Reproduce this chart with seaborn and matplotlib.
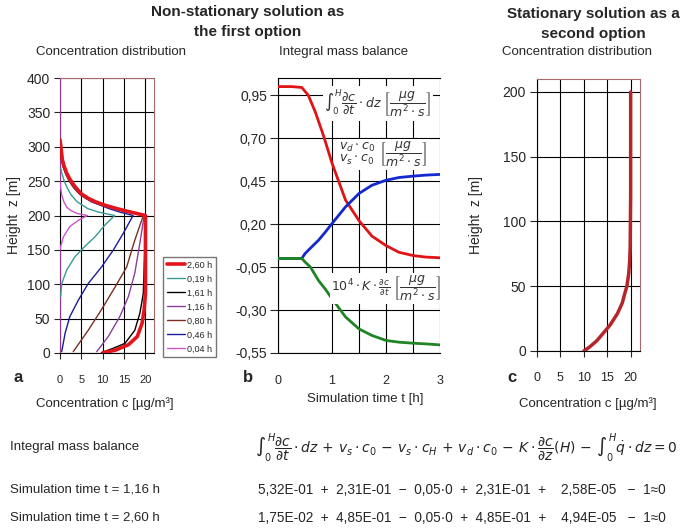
import matplotlib
matplotlib.use("Agg")
import matplotlib.pyplot as plt
import seaborn as sns
import pandas as pd

# ---- panel a: non-stationary concentration profiles (z in m, c in ug/m3) ----
times_a = ["2,60 h", "0,19 h", "1,61 h", "1,16 h", "0,80 h", "0,46 h", "0,04 h"]

z_260 = [0.5, 4, 12, 24, 43, 63, 87, 120, 160, 200, 205, 210, 215, 220, 225, 232, 242, 252, 261, 271, 281, 292, 300, 310]
c_260 = [10.1, 12.9, 16.0, 18.1, 19.2, 19.7, 20.0, 20.0, 20.0, 20.0, 16.5, 13.3, 10.5, 8.3, 6.6, 4.9, 3.5, 2.4, 1.6, 1.0, 0.55, 0.35, 0.2, 0.0]

z_161 = [0.5, 7, 14, 33, 58, 87, 125, 160, 200, 205, 210, 215, 220, 225, 232, 242, 252, 261, 271, 281, 292, 300]
c_161 = [9.7, 12.5, 15.2, 17.5, 18.7, 19.5, 19.7, 19.9, 20.0, 16.3, 13.1, 10.3, 8.1, 6.4, 4.7, 3.3, 2.2, 1.5, 0.9, 0.5, 0.3, 0.1]

z_116 = [2, 24, 53, 82, 116, 160, 200, 205, 210, 215, 220, 225, 232, 242, 252, 261, 271, 281, 292]
c_116 = [8.6, 11.3, 14.0, 16.0, 17.5, 18.7, 19.7, 16.1, 12.9, 10.1, 7.9, 6.2, 4.6, 3.2, 2.1, 1.4, 0.8, 0.45, 0.2]

z_080 = [2, 33, 63, 96, 125, 164, 200, 205, 210, 215, 220, 225, 232, 242, 252, 261, 271, 281, 290]
c_080 = [3.1, 6.6, 9.7, 12.9, 15.6, 17.5, 19.5, 15.8, 12.6, 9.9, 7.7, 6.0, 4.4, 3.0, 2.0, 1.3, 0.7, 0.35, 0.1]

z_046 = [2, 29, 53, 77, 101, 125, 150, 174, 200, 205, 210, 220, 230, 240, 250, 260, 270, 280, 290]
c_046 = [0.4, 1.2, 2.3, 4.3, 6.6, 9.7, 12.5, 14.8, 17.1, 14.0, 11.5, 7.3, 4.8, 3.3, 2.2, 1.4, 0.8, 0.4, 0.15]

z_019 = [82, 101, 121, 140, 155, 169, 186, 200, 205, 210, 220, 230, 240, 250, 260, 268]
c_019 = [0.15, 0.4, 1.6, 3.5, 5.8, 8.2, 10.5, 12.8, 9.0, 6.5, 4.0, 2.6, 1.7, 1.0, 0.5, 0.2]

z_004 = [0, 100, 150, 155, 169, 184, 193, 200, 203, 207, 212, 220, 230, 240, 250, 300, 400]
c_004 = [0.0, 0.0, 0.0, 0.15, 0.8, 2.3, 4.3, 6.4, 4.0, 2.6, 1.6, 0.9, 0.4, 0.15, 0.0, 0.0, 0.0]

# ---- panel b: integral mass balance terms over time ----
t_b = [0, 0.25, 0.44, 0.56, 0.69, 0.84, 1.0, 1.25, 1.5, 1.74, 2.0, 2.24, 2.5, 2.74, 3.0]
storage = [1.0, 1.0, 0.995, 0.95, 0.853, 0.717, 0.555, 0.34, 0.22, 0.13, 0.075, 0.036, 0.017, 0.008, 0.004]
t_bg = [0, 0.25, 0.44, 0.5, 0.6, 0.75, 0.88, 1.0, 1.25, 1.5, 1.74, 2.0, 2.24, 2.5, 2.74, 3.0]
deposition = [0.0, 0.0, 0.0, 0.028, 0.06, 0.106, 0.155, 0.203, 0.30, 0.378, 0.426, 0.455, 0.471, 0.479, 0.485, 0.489]
diffusion = [0.0, 0.0, 0.0, -0.02, -0.05, -0.128, -0.18, -0.234, -0.34, -0.41, -0.448, -0.477, -0.487, -0.493, -0.497, -0.503]

# ---- panel c: stationary profile ----
z_st = [0, 3, 8, 14, 20, 29, 37, 45, 50, 60, 70, 80, 100, 120, 150, 200]
c_st = [10.0, 11.2, 12.8, 14.2, 15.6, 17.2, 18.2, 18.8, 19.2, 19.6, 19.8, 19.9, 19.95, 20.0, 20.0, 20.0]

sns.set_style("white")
plt.rcParams["font.family"] = ["Liberation Sans", "DejaVu Sans"]
plt.rcParams["mathtext.fontset"] = "dejavusans"

W, H = 685, 530
fig = plt.figure(figsize=(W / 100, H / 100), dpi=100)


def box(l, r, t, b):
    return [l / W, 1 - b / H, (r - l) / W, (b - t) / H]


def ftxt(x, y, s, **kw):
    fig.text(x / W, 1 - y / H, s, **kw)


spine_red = "#a86a6a"

# ---------------- panel a ----------------
ax1 = fig.add_axes(box(60, 154, 78, 353))
profiles = [
    (c_260, z_260, "#e3141b", 2.6),
    (c_019, z_019, "#3a9a92", 1.0),
    (c_161, z_161, "black", 1.0),
    (c_116, z_116, "#8b3f9c", 1.0),
    (c_080, z_080, "#7b2f22", 1.0),
    (c_046, z_046, "#1c1c98", 1.0),
    (c_004, z_004, "#cc55cc", 1.0),
]
handles = []
for (cc, zz, col, lw), lab in zip(profiles[::-1], times_a[::-1]):
    sns.lineplot(x=cc, y=zz, sort=False, estimator=None, color=col, linewidth=lw, ax=ax1, zorder=3)
    handles.append((plt.Line2D([], [], color=col, linewidth=lw), lab))
handles = handles[::-1]
ax1.set_xlim(0, 22)
ax1.set_ylim(0, 400)
ax1.set_xticks([0, 5, 10, 15, 20])
ax1.set_yticks(range(0, 401, 50))
ax1.grid(True, color="black", linewidth=0.8)
ax1.set_ylabel("Height  z [m]", fontsize=10, labelpad=4)
ax1.tick_params(axis="y", labelsize=10, length=4, pad=3, left=True)
ax1.tick_params(axis="x", labelsize=8, length=4, pad=12, bottom=True)
for s in ["top", "right"]:
    ax1.spines[s].set_color(spine_red)
for s in ["left", "bottom"]:
    ax1.spines[s].set_color("black")

fig.legend([h for h, _ in handles], [l for _, l in handles],
           loc="upper left", bbox_to_anchor=(163 / W, 1 - 257 / H),
           fontsize=6.5, frameon=True, fancybox=False, edgecolor="#555555",
           handlelength=2.0, handletextpad=0.3, labelspacing=0.55,
           borderpad=0.4, borderaxespad=0)

# ---------------- panel b ----------------
ax2 = fig.add_axes(box(278, 440, 78, 353))
sns.lineplot(x=t_b, y=storage, color="#e01414", linewidth=2.0, ax=ax2, zorder=3)
sns.lineplot(x=t_bg, y=deposition, color="#1428d2", linewidth=2.0, ax=ax2, zorder=3)
sns.lineplot(x=t_bg, y=diffusion, color="#1f8424", linewidth=2.0, ax=ax2, zorder=3)
ax2.set_xlim(0, 3)
ax2.set_ylim(-0.55, 1.05)
ax2.set_xticks([0, 1, 1.5, 2, 2.5, 3])
ax2.set_xticklabels(["0", "1", "", "2", "", "3"])
yt = [0.95, 0.70, 0.45, 0.20, -0.05, -0.30, -0.55]
ax2.set_yticks(yt)
ax2.set_yticklabels([f"{v:.2f}".replace(".", ",") for v in yt])
ax2.grid(True, color="black", linewidth=0.8)
ax2.tick_params(axis="y", labelsize=10, length=6, pad=2, left=True)
ax2.tick_params(axis="x", labelsize=9, length=0, pad=16)
ax2.spines["right"].set_visible(False)
for s in ["top", "left", "bottom"]:
    ax2.spines[s].set_color("black")

bb = dict(facecolor="white", edgecolor="none", pad=1.0)
unit = r"\left[\dfrac{\mu g}{m^2\cdot s}\right]"
ax2.text(1.85, 0.90, r"$\int_0^H\dfrac{\partial c}{\partial t}\cdot dz\ " + unit + "$",
         fontsize=9, ha="center", va="center", bbox=bb, zorder=4, color="#333333")
ax2.text(1.95, 0.605, r"$\genfrac{}{}{0}{0}{v_d\cdot c_0}{v_s\cdot c_0}\ " + unit + "$",
         fontsize=9, ha="center", va="center", bbox=bb, zorder=4, color="#333333")
ax2.text(2.0, -0.175, r"$10^4\cdot K\cdot\frac{\partial c}{\partial t}\ " + unit + "$",
         fontsize=9, ha="center", va="center", bbox=bb, zorder=4, color="#333333")

# ---------------- panel c ----------------
ax3 = fig.add_axes(box(537, 640, 79, 351))
sns.lineplot(x=c_st, y=z_st, sort=False, estimator=None, color="#b5262a", linewidth=2.5, ax=ax3, zorder=3)
ax3.set_xlim(0, 22)
ax3.set_ylim(0, 210)
ax3.set_xticks([0, 5, 10, 15, 20])
ax3.set_yticks([0, 50, 100, 150, 200])
ax3.grid(True, color="black", linewidth=0.8)
ax3.set_ylabel("Height  z [m]", fontsize=10, labelpad=14)
ax3.tick_params(axis="y", labelsize=10, length=5, pad=3, left=True)
ax3.tick_params(axis="x", labelsize=9, length=4, pad=11, bottom=True)
for s in ["top", "right"]:
    ax3.spines[s].set_color(spine_red)
for s in ["left", "bottom"]:
    ax3.spines[s].set_color("black")

# ---------------- titles and labels ----------------
ftxt(248, 22, "Non-stationary solution as\nthe first option", fontsize=11, fontweight="bold",
     ha="center", va="center", linespacing=1.5)
ftxt(593, 24, "Stationary solution as a\nsecond option", fontsize=11, fontweight="bold",
     ha="center", va="center", linespacing=1.5)
ftxt(111, 52, "Concentration distribution", fontsize=9.5, ha="center", va="center")
ftxt(344, 52, "Integral mass balance", fontsize=9.5, ha="center", va="center")
ftxt(577, 52, "Concentration distribution", fontsize=9.5, ha="center", va="center")

ftxt(18, 377, "a", fontsize=12, fontweight="bold", ha="center", va="center")
ftxt(248, 377, "b", fontsize=12, fontweight="bold", ha="center", va="center")
ftxt(512, 377, "c", fontsize=12, fontweight="bold", ha="center", va="center")

ftxt(105, 404, "Concentration c [µg/m³]", fontsize=9.5, ha="center", va="center")
ftxt(365, 399, "Simulation time t [h]", fontsize=9.5, ha="center", va="center")
ftxt(588, 404, "Concentration c [µg/m³]", fontsize=9.5, ha="center", va="center")

# ---------------- mass balance equation and values ----------------
ftxt(10, 447, "Integral mass balance", fontsize=9.5, ha="left", va="center")
ftxt(255, 447,
     r"$\int_0^H\dfrac{\partial c}{\partial t}\cdot dz\,+\,v_s\cdot c_0\,-\,v_s\cdot c_H\,+\,"
     r"v_d\cdot c_0\,-\,K\cdot\dfrac{\partial c}{\partial z}(H)\,-\,\int_0^H\dot{q}\cdot dz = 0$",
     fontsize=10, ha="left", va="center")
ftxt(10, 490, "Simulation time t = 1,16 h", fontsize=9.5, ha="left", va="center")
ftxt(258, 490, "5,32E-01  +  2,31E-01  \u2212  0,05\u00b70  +  2,31E-01  +    2,58E-05   \u2212  1\u22480",
     fontsize=9.8, ha="left", va="center")
ftxt(10, 518, "Simulation time t = 2,60 h", fontsize=9.5, ha="left", va="center")
ftxt(258, 518, "1,75E-02  +  4,85E-01  \u2212  0,05\u00b70  +  4,85E-01  +    4,94E-05   \u2212  1\u22480",
     fontsize=9.8, ha="left", va="center")

fig.savefig("out.png", dpi=100)
